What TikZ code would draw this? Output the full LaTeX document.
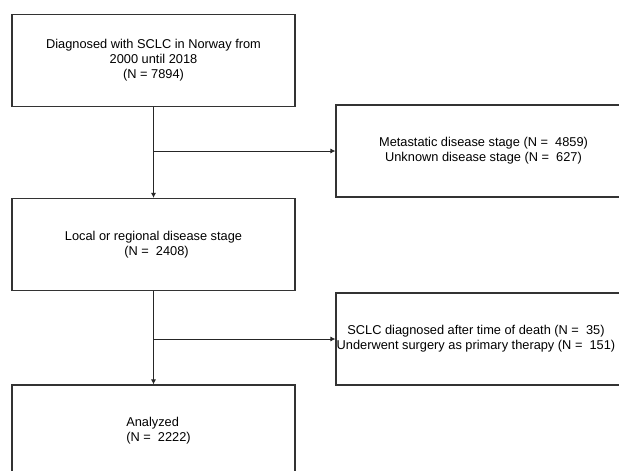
\documentclass[tikz,border=0pt]{standalone}
\usepackage{fontspec}
\setmainfont{Liberation Sans}
\usepackage{tikz}
\usetikzlibrary{arrows.meta,positioning}

\begin{document}
\begin{tikzpicture} [
  x = 1pt, y = -1pt,
  inner sep = 0,
  every node/.style = { font = \fontsize{12.8}{15}\selectfont, align = center },
  stagebox/.style = { draw = black!80, line width = 1.1pt, minimum width = 283pt, minimum height = 92pt },
  exclbox/.style = { draw = black!80, line width = 1.1pt, minimum width = 295pt, minimum height = 92pt },
  flow/.style = { draw = black!85, line width = 0.9pt, -{Latex[length=5pt, width=5pt]} }
  ]

  \clip (0,0) rectangle (619,471);

  \node[stagebox] (diag) at (153.5,60.5) {Diagnosed with SCLC in Norway from\\2000 until 2018\\(N = 7894)};
  \node[exclbox] (meta) at (483.5,151) {Metastatic disease stage (N = \ 4859)\\Unknown disease stage (N = \ 627)};
  \node[stagebox] (local) at (153.5,244.5) {Local or regional disease stage\\\hspace*{6pt}(N = \ 2408)};
  \node[exclbox] (death) at (483.5,339) {SCLC diagnosed after time of death (N = \ 35)\hspace*{15pt}\\Underwent surgery as primary therapy (N = \ 151)\hspace*{15pt}};
  \node[stagebox, align = left] (anal) at (153.5,431) {\hspace*{10pt}Analyzed\\\hspace*{10pt}(N = \ 2222)};

  \draw[flow] (diag) -- (local);
  \draw[flow] (diag.south |- meta.west) -- (meta.west);
  \draw[flow] (local) -- (anal);
  \draw[flow] (local.south |- death.west) -- (death.west);
\end{tikzpicture}
\end{document}
